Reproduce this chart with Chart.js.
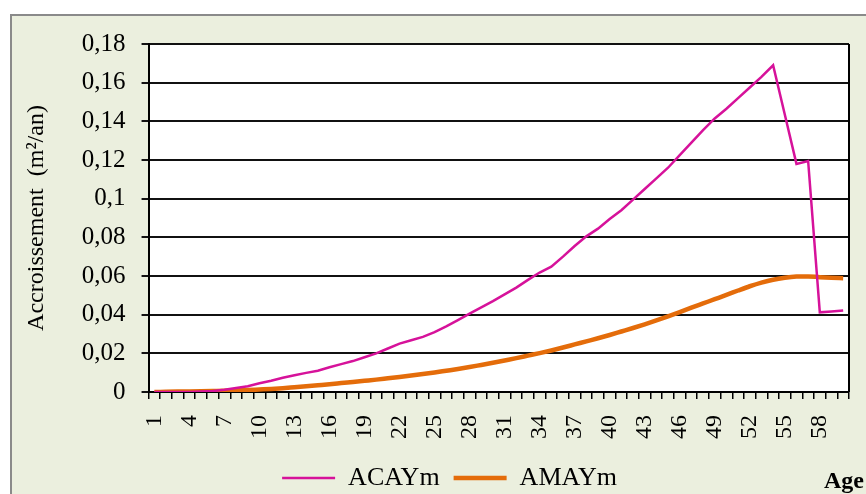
<!DOCTYPE html>
<html>
<head>
<meta charset="utf-8">
<script src="https://cdn.jsdelivr.net/npm/chart.js@4"></script>
<style>
  html, body { margin: 0; padding: 0; background: #fff; overflow: hidden; }
  #frame {
    position: absolute; left: 10px; top: 14px; width: 900px; height: 520px;
    background: #ebefde; border-left: 2px solid #8a8a8a; border-top: 2px solid #8a8a8a;
  }
  #wrap { position: absolute; left: 0; top: 0; width: 866px; height: 494px; }
</style>
</head>
<body>
<div id="frame"></div>
<div id="wrap"><canvas id="chart"></canvas></div>
<script>
// Age categories (years)
const ages = [1,2,3,4,5,6,7,8,9,10,11,12,13,14,15,16,17,18,19,20,
  21,22,23,24,25,26,27,28,29,30,31,32,33,34,35,36,37,38,39,40,
  41,42,43,44,45,46,47,48,49,50,51,52,53,54,55,56,57,58,59,60];

// ACAYm - current annual increment (m2/an)
const acaym = [0,0,0,0,0.0002,0.0005,0.0012,0.0021,0.003,0.0045,
  0.0058,0.0074,0.0087,0.0099,0.011,0.0128,0.0144,0.016,0.018,0.02,
  0.0225,0.025,0.0268,0.0285,0.031,0.034,0.0372,0.0405,0.0438,0.047,
  0.0505,0.054,0.058,0.0618,0.0648,0.07,0.0755,0.0805,0.0845,0.0895,
  0.094,0.0995,0.105,0.1105,0.116,0.1225,0.129,0.1355,0.1415,0.1465,
  0.152,0.1575,0.163,0.169,0.1435,0.118,0.1195,0.0412,0.0417,0.0422];

// AMAYm - mean annual increment (m2/an)
const amaym = [0,0.0001,0.0002,0.0003,0.0004,0.0005,0.0006,0.0008,0.001,0.0013,
  0.0016,0.002,0.0025,0.003,0.0035,0.004,0.0046,0.0052,0.0058,0.0064,
  0.0071,0.0078,0.0085,0.0093,0.0101,0.011,0.0119,0.0129,0.014,0.0151,
  0.0163,0.0175,0.0188,0.0201,0.0215,0.023,0.0246,0.0262,0.0278,0.0295,
  0.0313,0.0331,0.035,0.037,0.0391,0.0413,0.0436,0.0458,0.048,0.0502,
  0.0525,0.0547,0.0566,0.0581,0.0591,0.0597,0.0598,0.0594,0.0591,0.0589];

const serif = "'Liberation Serif', 'Times New Roman', serif";

// white plot area, right border, "Age" text, legend nudge
const extras = {
  id: 'extras',
  afterLayout(chart) {
    const lg = chart.legend;
    lg.left += 20; lg.right += 20;
    lg.top -= 4; lg.bottom -= 4;
  },
  beforeDraw(chart) {
    const { ctx, chartArea: a } = chart;
    ctx.save();
    ctx.fillStyle = '#fff';
    ctx.fillRect(a.left, a.top, a.right - a.left, a.bottom - a.top);
    ctx.restore();
  },
  afterDraw(chart) {
    const { ctx, chartArea: a } = chart;
    ctx.save();
    ctx.strokeStyle = '#000';
    ctx.lineWidth = 2;
    ctx.beginPath();
    ctx.moveTo(a.right, a.top);
    ctx.lineTo(a.right, a.bottom);
    ctx.stroke();
    ctx.fillStyle = '#000';
    ctx.font = 'bold 24px ' + serif;
    ctx.textBaseline = 'alphabetic';
    ctx.fillText('Age', 824, 488);
    ctx.restore();
  }
};

new Chart(document.getElementById('chart'), {
  type: 'line',
  data: {
    labels: ages,
    datasets: [{
      label: 'ACAYm',
      data: acaym,
      borderColor: '#d6129a',
      backgroundColor: '#d6129a',
      borderWidth: 2.5,
      pointRadius: 0,
      tension: 0
    }, {
      label: 'AMAYm',
      data: amaym,
      borderColor: '#e46c0a',
      backgroundColor: '#e46c0a',
      borderWidth: 4.5,
      pointRadius: 0,
      cubicInterpolationMode: 'monotone'
    }]
  },
  options: {
    responsive: true,
    maintainAspectRatio: false,
    animation: false,
    layout: { padding: { left: 10, right: 17, top: 44, bottom: -11 } },
    plugins: {
      tooltip: { enabled: false },
      legend: {
        position: 'bottom',
        labels: {
          usePointStyle: true,
          pointStyle: 'line',
          pointStyleWidth: 53,
          color: '#000',
          padding: 14,
          font: { family: serif, size: 26 }
        }
      }
    },
    scales: {
      x: {
        offset: true,
        afterFit: s => { s.paddingRight = 0; s.paddingLeft = 0; },
        grid: { offset: true, drawOnChartArea: false, color: '#000', lineWidth: 1.5, tickLength: 7 },
        border: { color: '#000', width: 2 },
        ticks: {
          autoSkip: false,
          minRotation: 90,
          maxRotation: 90,
          padding: 16,
          color: '#000',
          font: { family: serif, size: 24 },
          callback: (v, i) => (i % 3 === 0 ? String(ages[i]) : '')
        }
      },
      y: {
        min: 0,
        max: 0.18,
        grid: { color: '#111', lineWidth: 2, tickLength: 7 },
        border: { color: '#000', width: 2 },
        ticks: {
          stepSize: 0.02,
          padding: 16,
          color: '#000',
          font: { family: serif, size: 25 },
          callback: v => String(Number(v.toFixed(2))).replace('.', ',')
        },
        title: {
          display: true,
          text: 'Accroissement  (m²/an)',
          color: '#000',
          font: { family: serif, size: 24 },
          padding: { top: 12, bottom: 15 }
        }
      }
    }
  },
  plugins: [extras]
});
</script>
</body>
</html>
